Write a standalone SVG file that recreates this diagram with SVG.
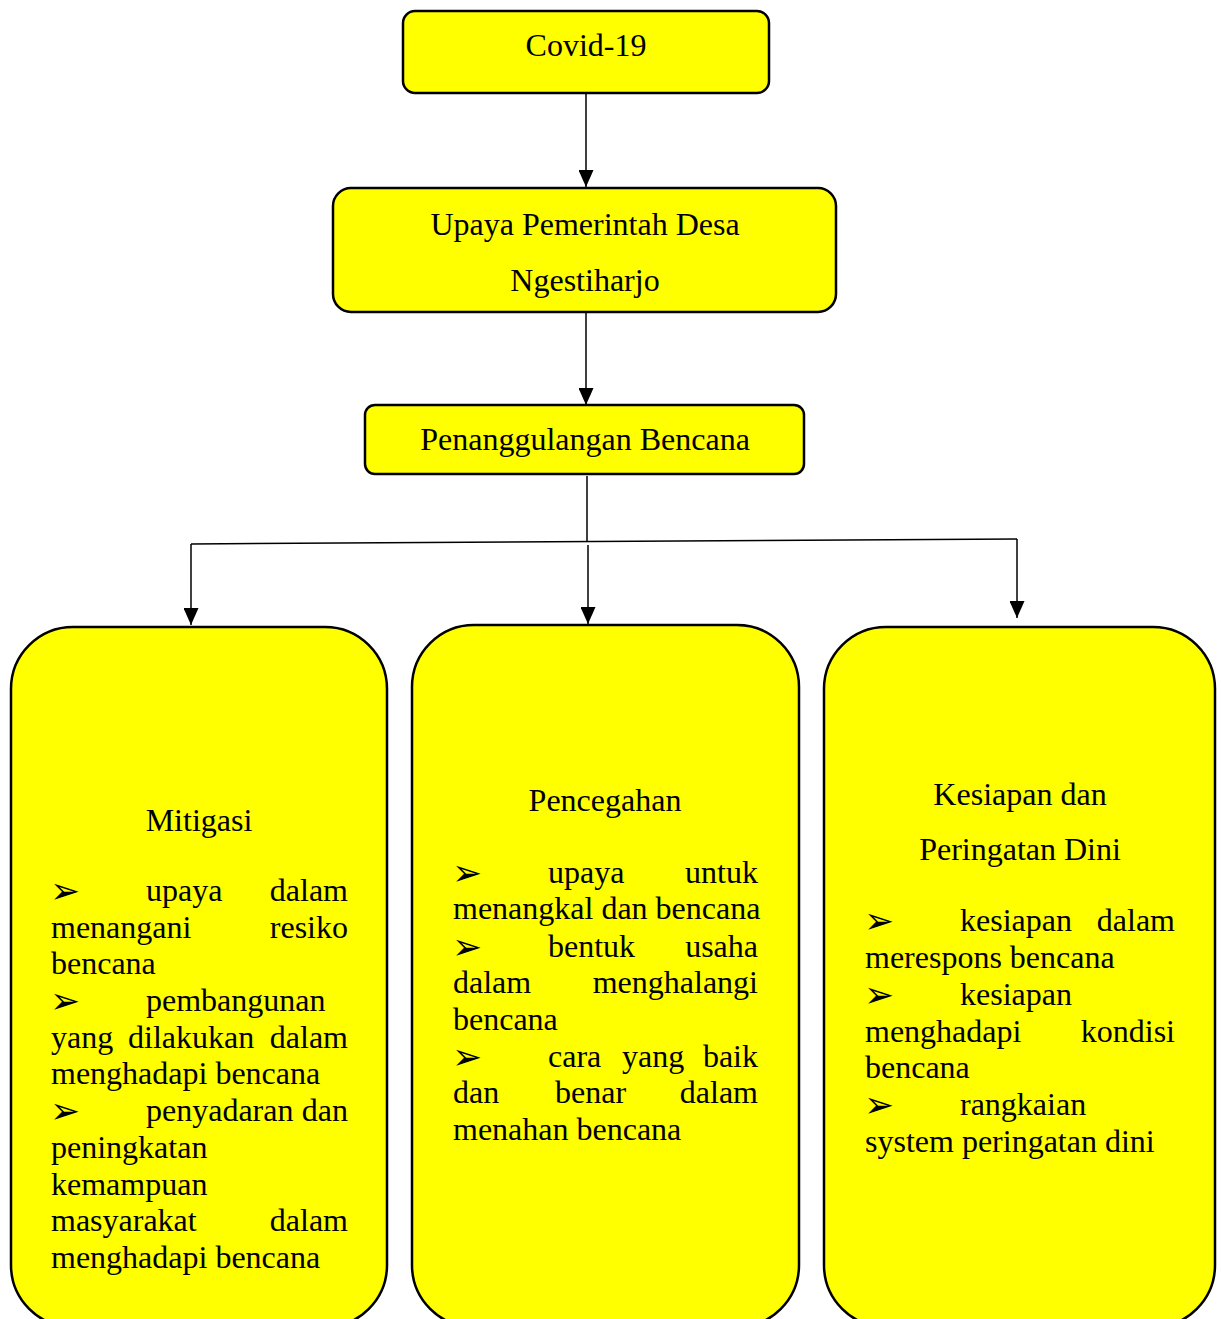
<svg xmlns="http://www.w3.org/2000/svg" width="1221" height="1319" viewBox="0 0 1221 1319">
<style>
.box{fill:#ffff00;stroke:#000;stroke-width:2.5}
.t{font-family:"Liberation Serif","Times New Roman",serif;font-size:32px;fill:#000}
.c{text-anchor:middle}
.e{text-anchor:end}
.b{font-family:"DejaVu Sans",sans-serif;font-size:36px;fill:#000}
.ln{stroke:#000;stroke-width:1.5;fill:none}
</style>
<defs>
<marker id="ahd" markerUnits="userSpaceOnUse" markerWidth="17" markerHeight="15" refX="17" refY="7.5" orient="auto" viewBox="0 0 17 15">
<path d="M0,0 L17,7.5 L0,15 Z" fill="#000"/>
</marker>
</defs>

<g id="connectors">
<line class="ln" x1="586" y1="94" x2="586" y2="187" marker-end="url(#ahd)"/>
<line class="ln" x1="586" y1="313" x2="586" y2="405" marker-end="url(#ahd)"/>
<line class="ln" x1="587" y1="476" x2="587" y2="541"/>
<line class="ln" x1="191" y1="544" x2="1017" y2="539"/>
<line class="ln" x1="191" y1="544" x2="191" y2="625" marker-end="url(#ahd)"/>
<line class="ln" x1="588" y1="545" x2="588" y2="624" marker-end="url(#ahd)"/>
<line class="ln" x1="1017" y1="539" x2="1017" y2="618" marker-end="url(#ahd)"/>
</g>

<g id="node-covid">
<rect class="box" x="403" y="11" width="366" height="82" rx="12"/>
<text class="t c" x="586" y="56">Covid-19</text>
</g>

<g id="node-upaya">
<rect class="box" x="333" y="188" width="503" height="124" rx="18"/>
<text class="t c" x="585" y="235">Upaya Pemerintah Desa</text>
<text class="t c" x="585" y="291">Ngestiharjo</text>
</g>

<g id="node-penanggulangan">
<rect class="box" x="365" y="405" width="439" height="69" rx="10"/>
<text class="t c" x="585" y="450">Penanggulangan Bencana</text>
</g>

<g id="node-mitigasi">
<rect class="box" x="11" y="627" width="376" height="700" rx="62"/>
<text class="t c" x="199" y="831">Mitigasi</text>
<text class="b" x="50" y="903">➢</text>
<text class="t" x="146" y="901">upaya</text>
<text class="t e" x="348" y="901">dalam</text>
<text class="t" x="51" y="938">menangani</text>
<text class="t e" x="348" y="938">resiko</text>
<text class="t" x="51" y="974">bencana</text>
<text class="b" x="50" y="1013">➢</text>
<text class="t" x="146" y="1011">pembangunan</text>
<text class="t" x="51" y="1048">yang</text>
<text class="t" x="128" y="1048">dilakukan</text>
<text class="t e" x="348" y="1048">dalam</text>
<text class="t" x="51" y="1084">menghadapi bencana</text>
<text class="b" x="50" y="1123">➢</text>
<text class="t" x="146" y="1121">penyadaran</text>
<text class="t e" x="348" y="1121">dan</text>
<text class="t" x="51" y="1158">peningkatan</text>
<text class="t" x="51" y="1195">kemampuan</text>
<text class="t" x="51" y="1231">masyarakat</text>
<text class="t e" x="348" y="1231">dalam</text>
<text class="t" x="51" y="1268">menghadapi bencana</text>
</g>

<g id="node-pencegahan">
<rect class="box" x="412" y="625" width="387" height="702" rx="62"/>
<text class="t c" x="605" y="811">Pencegahan</text>
<text class="b" x="452" y="885">➢</text>
<text class="t" x="548" y="883">upaya</text>
<text class="t e" x="758" y="883">untuk</text>
<text class="t" x="453" y="919">menangkal dan bencana</text>
<text class="b" x="452" y="959">➢</text>
<text class="t" x="548" y="957">bentuk</text>
<text class="t e" x="758" y="957">usaha</text>
<text class="t" x="453" y="993">dalam</text>
<text class="t e" x="758" y="993">menghalangi</text>
<text class="t" x="453" y="1030">bencana</text>
<text class="b" x="452" y="1069">➢</text>
<text class="t" x="548" y="1067">cara</text>
<text class="t" x="622" y="1067">yang</text>
<text class="t e" x="758" y="1067">baik</text>
<text class="t" x="453" y="1103">dan</text>
<text class="t" x="555" y="1103">benar</text>
<text class="t e" x="758" y="1103">dalam</text>
<text class="t" x="453" y="1140">menahan bencana</text>
</g>

<g id="node-kesiapan">
<rect class="box" x="824" y="627" width="391" height="700" rx="62"/>
<text class="t c" x="1020" y="805">Kesiapan dan</text>
<text class="t c" x="1020" y="860">Peringatan Dini</text>
<text class="b" x="864" y="933">➢</text>
<text class="t" x="960" y="931">kesiapan</text>
<text class="t e" x="1175" y="931">dalam</text>
<text class="t" x="865" y="968">merespons bencana</text>
<text class="b" x="864" y="1007">➢</text>
<text class="t" x="960" y="1005">kesiapan</text>
<text class="t" x="865" y="1042">menghadapi</text>
<text class="t e" x="1175" y="1042">kondisi</text>
<text class="t" x="865" y="1078">bencana</text>
<text class="b" x="864" y="1117">➢</text>
<text class="t" x="960" y="1115">rangkaian</text>
<text class="t" x="865" y="1152">system peringatan dini</text>
</g>
</svg>
